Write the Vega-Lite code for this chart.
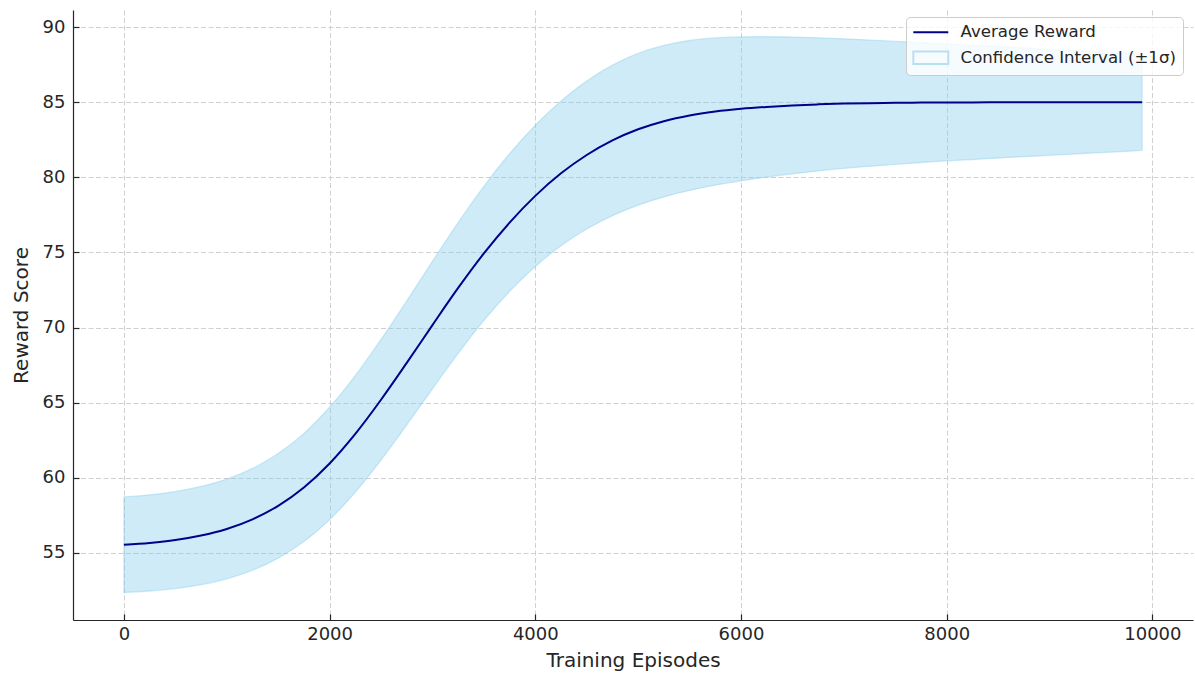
{
  "$schema": "https://vega.github.io/schema/vega-lite/v6.json",
  "autosize": {"type": "none"},
  "width": 1120,
  "height": 610,
  "padding": {"left": 73, "top": 10, "right": 2, "bottom": 53},
  "background": "white",
  "config": {
    "font": "DejaVu Sans",
    "view": {"stroke": null},
    "axis": {
      "labelFont": "DejaVu Sans",
      "labelFontSize": 18,
      "labelColor": "#262626",
      "titleFont": "DejaVu Sans",
      "titleFontSize": 20,
      "titleFontWeight": "normal",
      "titleColor": "#262626",
      "domainColor": "#262626",
      "domainWidth": 1.2,
      "tickColor": "#262626",
      "tickWidth": 1.2,
      "tickSize": -6,
      "grid": true,
      "gridColor": "#d0d0d0",
      "gridDash": [5, 2.5],
      "gridWidth": 1
    }
  },
  "datasets": {
    "curve": [
      {"episode": 0, "reward": 55.55, "lower": 52.37, "upper": 58.73},
      {"episode": 250, "reward": 55.67, "lower": 52.47, "upper": 58.87},
      {"episode": 500, "reward": 55.86, "lower": 52.63, "upper": 59.09},
      {"episode": 750, "reward": 56.16, "lower": 52.89, "upper": 59.43},
      {"episode": 1000, "reward": 56.60, "lower": 53.28, "upper": 59.92},
      {"episode": 1250, "reward": 57.24, "lower": 53.85, "upper": 60.63},
      {"episode": 1500, "reward": 58.14, "lower": 54.66, "upper": 61.62},
      {"episode": 1750, "reward": 59.36, "lower": 55.76, "upper": 62.96},
      {"episode": 2000, "reward": 60.96, "lower": 57.22, "upper": 64.70},
      {"episode": 2250, "reward": 62.93, "lower": 59.05, "upper": 66.81},
      {"episode": 2500, "reward": 65.20, "lower": 61.19, "upper": 69.21},
      {"episode": 2750, "reward": 67.65, "lower": 63.52, "upper": 71.78},
      {"episode": 3000, "reward": 70.17, "lower": 65.93, "upper": 74.41},
      {"episode": 3250, "reward": 72.64, "lower": 68.29, "upper": 76.99},
      {"episode": 3500, "reward": 74.94, "lower": 70.48, "upper": 79.40},
      {"episode": 3750, "reward": 76.99, "lower": 72.41, "upper": 81.57},
      {"episode": 4000, "reward": 78.77, "lower": 74.07, "upper": 83.47},
      {"episode": 4250, "reward": 80.27, "lower": 75.45, "upper": 85.09},
      {"episode": 4500, "reward": 81.49, "lower": 76.56, "upper": 86.42},
      {"episode": 4750, "reward": 82.46, "lower": 77.45, "upper": 87.47},
      {"episode": 5000, "reward": 83.20, "lower": 78.15, "upper": 88.25},
      {"episode": 5250, "reward": 83.74, "lower": 78.70, "upper": 88.78},
      {"episode": 5500, "reward": 84.12, "lower": 79.13, "upper": 89.11},
      {"episode": 5750, "reward": 84.38, "lower": 79.48, "upper": 89.28},
      {"episode": 6000, "reward": 84.56, "lower": 79.77, "upper": 89.35},
      {"episode": 6250, "reward": 84.69, "lower": 80.02, "upper": 89.36},
      {"episode": 6500, "reward": 84.79, "lower": 80.24, "upper": 89.34},
      {"episode": 6750, "reward": 84.86, "lower": 80.43, "upper": 89.29},
      {"episode": 7000, "reward": 84.91, "lower": 80.60, "upper": 89.22},
      {"episode": 7250, "reward": 84.94, "lower": 80.74, "upper": 89.14},
      {"episode": 7500, "reward": 84.96, "lower": 80.87, "upper": 89.05},
      {"episode": 7750, "reward": 84.98, "lower": 80.99, "upper": 88.97},
      {"episode": 8000, "reward": 84.99, "lower": 81.10, "upper": 88.88},
      {"episode": 8250, "reward": 84.99, "lower": 81.19, "upper": 88.79},
      {"episode": 8500, "reward": 85.00, "lower": 81.29, "upper": 88.71},
      {"episode": 8750, "reward": 85.00, "lower": 81.38, "upper": 88.62},
      {"episode": 9000, "reward": 85.00, "lower": 81.47, "upper": 88.53},
      {"episode": 9250, "reward": 85.00, "lower": 81.56, "upper": 88.44},
      {"episode": 9500, "reward": 85.00, "lower": 81.65, "upper": 88.35},
      {"episode": 9750, "reward": 85.00, "lower": 81.74, "upper": 88.26},
      {"episode": 9900, "reward": 85.00, "lower": 81.80, "upper": 88.20}
    ],
    "series": [
      {"series": "Average Reward"},
      {"series": "Confidence Interval (±1σ)"}
    ]
  },
  "layer": [
    {
      "data": {"name": "curve"},
      "mark": {
        "type": "area",
        "interpolate": "monotone",
        "fill": "#87CEEB",
        "fillOpacity": 0.4,
        "stroke": "#87CEEB",
        "strokeOpacity": 0.4,
        "strokeWidth": 1.3
      },
      "encoding": {
        "x": {
          "field": "episode",
          "type": "quantitative",
          "scale": {"domain": [-495, 10395], "nice": false, "zero": false},
          "axis": {
            "title": "Training Episodes",
            "values": [0, 2000, 4000, 6000, 8000, 10000],
            "format": "d",
            "labelPadding": 11,
            "titlePadding": 7,
            "labelFlush": false
          }
        },
        "y": {
          "field": "lower",
          "type": "quantitative",
          "scale": {"domain": [50.54, 91.14], "nice": false, "zero": false},
          "axis": {
            "title": "Reward Score",
            "values": [55, 60, 65, 70, 75, 80, 85, 90],
            "labelPadding": 14,
            "titlePadding": 11
          }
        },
        "y2": {"field": "upper"}
      }
    },
    {
      "data": {"name": "curve"},
      "mark": {"type": "line", "interpolate": "monotone", "strokeWidth": 2, "color": "#00008B"},
      "encoding": {
        "x": {"field": "episode", "type": "quantitative"},
        "y": {"field": "reward", "type": "quantitative"}
      }
    },
    {
      "data": {"name": "series"},
      "mark": {"type": "point", "filled": true, "opacity": 0},
      "encoding": {
        "fill": {
          "field": "series",
          "type": "nominal",
          "scale": {
            "domain": ["Average Reward", "Confidence Interval (±1σ)"],
            "range": ["transparent", "#cfeaf6"]
          },
          "legend": {
            "title": null,
            "orient": "none",
            "legendX": 833,
            "legendY": 7,
            "direction": "vertical",
            "padding": 7,
            "rowPadding": 6.4,
            "fillColor": "rgba(255,255,255,0.8)",
            "strokeColor": "#cccccc",
            "cornerRadius": 4,
            "labelFont": "DejaVu Sans",
            "labelFontSize": 16.6,
            "labelColor": "#262626",
            "labelOffset": 31,
            "symbolSize": 144,
            "symbolStrokeWidth": 2,
            "symbolOpacity": 1,
            "symbolFillColor": "#cfeaf6",
            "labelLimit": 400
          }
        },
        "stroke": {
          "field": "series",
          "type": "nominal",
          "scale": {
            "domain": ["Average Reward", "Confidence Interval (±1σ)"],
            "range": ["#00008B", "#b9e0f1"]
          }
        },
        "shape": {
          "field": "series",
          "type": "nominal",
          "scale": {
            "domain": ["Average Reward", "Confidence Interval (±1σ)"],
            "range": ["M-1.33,0H4.5", "M-1.33,-1.05H4.5V1.05H-1.33Z"]
          }
        }
      }
    }
  ]
}
